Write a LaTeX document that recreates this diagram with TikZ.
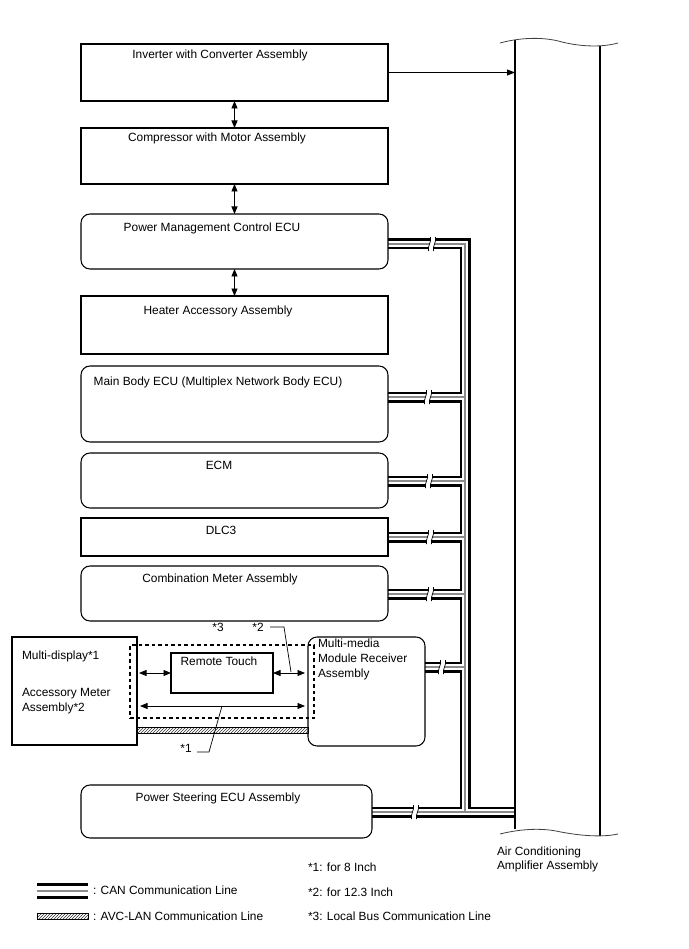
\documentclass[tikz,border=0pt]{standalone}
\usepackage{fontspec}
\setmainfont{Liberation Sans}
\usetikzlibrary{arrows.meta,patterns}
\pgfdeclarelayer{bg}
\pgfsetlayers{bg,main}
\newcommand\canbreak[2]{%
  \fill[white] ({#1-3.5},{#2+7}) .. controls ({#1-4.5},{#2+1}) and ({#1-0.5},{#2-1}) .. ({#1-1.5},{#2-7})
     -- ({#1+3.5},{#2-7}) .. controls ({#1+4.5},{#2-1}) and ({#1+0.5},{#2+1}) .. ({#1+1.5},{#2+7}) -- cycle;
  \draw[line width=0.7pt] ({#1-3.5},{#2+7}) .. controls ({#1-4.5},{#2+1}) and ({#1-0.5},{#2-1}) .. ({#1-1.5},{#2-7});
  \draw[line width=0.7pt] ({#1+1.5},{#2+7}) .. controls ({#1+0.5},{#2+1}) and ({#1+4.5},{#2-1}) .. ({#1+3.5},{#2-7});
}
\begin{document}
\begin{tikzpicture}[x=1pt,y=-1pt,
  font=\fontsize{11.9}{14}\selectfont,
  every node/.style={inner sep=0pt, outer sep=0pt},
  sq/.style={draw, line width=1.05pt, anchor=north west},
  rd/.style={sq, rounded corners=9pt},
  ctext/.style={anchor=base},
  ltext/.style={anchor=base west},
  dbl/.style={{Triangle[length=7.5pt,width=6pt]}-{Triangle[length=7.5pt,width=6pt]}, line width=0.8pt},
  sgl/.style={-{Triangle[length=8pt,width=6pt]}, line width=0.8pt},
  thin/.style={line width=0.7pt},
  avc/.style={draw, line width=0.5pt, pattern=north east lines, pattern color=black!80},
]
\useasboundingbox (0,0) rectangle (688,949);

% boxes
\node[sq, minimum width=307pt, minimum height=57pt] (inv) at (81,44) {};
\node[sq, minimum width=307pt, minimum height=56pt] (comp) at (81,128) {};
\node[rd, minimum width=307pt, minimum height=55pt] (pmc) at (81,214) {};
\node[sq, minimum width=307pt, minimum height=58pt] (heat) at (81,296) {};
\node[rd, minimum width=307pt, minimum height=76pt] (mb) at (81,366) {};
\node[rd, minimum width=307pt, minimum height=55pt] (ecm) at (81,453) {};
\node[sq, minimum width=307pt, minimum height=38pt] (dlc) at (81,518) {};
\node[rd, minimum width=307pt, minimum height=55pt] (cmb) at (81,566) {};
\node[sq, minimum width=125pt, minimum height=108pt] (md) at (12,637) {};
\node[rd, minimum width=117pt, minimum height=109pt] (mm) at (308,637) {};
\node[sq, minimum width=102pt, minimum height=40pt] (rt) at (171,653) {};
\node[sq, line width=1.1pt, dash pattern=on 3.5pt off 3pt, minimum width=184pt, minimum height=73pt] (dsh) at (130,645) {};
\node[rd, minimum width=291pt, minimum height=53pt] (ps) at (81,785) {};

% texts
\node[ctext] (tinv) at (220,59) {Inverter with Converter Assembly};
\node[ctext] (tcomp) at (217,142) {Compressor with Motor Assembly};
\node[ctext] (tpmc) at (212,232) {Power Management Control ECU};
\node[ctext] (theat) at (218,314) {Heater Accessory Assembly};
\node[ctext] (tmb) at (218,385) {Main Body ECU (Multiplex Network Body ECU)};
\node[ctext] (tecm) at (219,469) {ECM};
\node[ctext] (tdlc) at (221,534) {DLC3};
\node[ctext] (tcmb) at (220,582) {Combination Meter Assembly};
\node[ctext] (tps) at (218,801) {Power Steering ECU Assembly};
\node[ctext] (trt) at (219,665) {Remote Touch};
\node[ltext] (tmd1) at (22,659) {Multi-display*1};
\node[ltext] (tmd2) at (22,696) {Accessory Meter};
\node[ltext] (tmd3) at (22,711) {Assembly*2};
\node[ltext] (tmm1) at (318,647) {Multi-media};
\node[ltext] (tmm2) at (318,662) {Module Receiver};
\node[ltext] (tmm3) at (318,677) {Assembly};
\node[ctext] (s3) at (218,631) {*3};
\node[ctext] (s2) at (258,631) {*2};
\node[ctext] (s1) at (186,752) {*1};
\node[ltext] (tac1) at (497,855) {Air Conditioning};
\node[ltext] (tac2) at (497,869) {Amplifier Assembly};
\node[ltext] (tlg1) at (93,894) {: CAN Communication Line};
\node[ltext] (tlg2) at (93,920) {: AVC-LAN Communication Line};
\node[ltext] (tn1) at (308,871) {*1: for 8 Inch};
\node[ltext] (tn2) at (308,896) {*2: for 12.3 Inch};
\node[ltext] (tn3) at (308,920) {*3: Local Bus Communication Line};

% air conditioning amplifier (cut-away)
\coordinate (acTL) at (515,40);
\coordinate (acBL) at (515,829);
\coordinate (acTR) at (600,46);
\coordinate (acBR) at (600,836);
\draw[line width=1.05pt] (acTL) -- (acBL);
\draw[line width=1.05pt] (acTR) -- (acBR);
\draw[black!75, line width=0.8pt] (500,43) .. controls (522,37) and (545,37) .. (562,42) .. controls (578,46) and (600,48) .. (618,43);
\draw[black!75, line width=0.8pt] (500,834) .. controls (520,829) and (540,828) .. (556,831) .. controls (575,835) and (600,838) .. (618,834);

% bus coordinates
\coordinate (b1) at (465,244);
\coordinate (b2) at (465,397);
\coordinate (b3) at (465,481);
\coordinate (b4) at (465,537);
\coordinate (b5) at (465,594);
\coordinate (b6) at (465,667);
\coordinate (b7) at (465,812);
\coordinate (acL) at (515,812);

\begin{pgfonlayer}{bg}
\foreach \w/\c in {11/black,6.4/white,1.3/black!45}{
  \draw[line width=\w pt, draw=\c, line join=miter] (pmc.east |- b1) -- (b1) -- (b7);
  \draw[line width=\w pt, draw=\c] (mb.east |- b2) -- (b2);
  \draw[line width=\w pt, draw=\c] (ecm.east |- b3) -- (b3);
  \draw[line width=\w pt, draw=\c] (dlc.east |- b4) -- (b4);
  \draw[line width=\w pt, draw=\c] (cmb.east |- b5) -- (b5);
  \draw[line width=\w pt, draw=\c] (mm.east |- b6) -- (b6);
  \draw[line width=\w pt, draw=\c] (ps.east |- b7) -- (acL);
}
\canbreak{432}{244}
\canbreak{428}{397}
\canbreak{429}{481}
\canbreak{430}{537}
\canbreak{430}{594}
\canbreak{442}{667}
\canbreak{415}{812}
\end{pgfonlayer}

% arrows
\draw[sgl] (inv.east) -- (inv.east -| acL);
\draw[dbl] (inv.south) -- (comp.north);
\draw[dbl] (comp.south) -- (pmc.north);
\draw[dbl] (pmc.south) -- (heat.north);

\coordinate (a1) at (139,673);
\coordinate (a2) at (305,673);
\coordinate (a3) at (140,706);
\coordinate (a4) at (305,706);
\draw[dbl] (a1) -- (rt.west);
\draw[dbl] (rt.east) -- (a2);
\draw[dbl] (a3) -- (a4);

% AVC-LAN line
\coordinate (avc1) at (0,727);
\coordinate (avc2) at (0,733);
\draw[avc] (md.east |- avc1) rectangle (mm.west |- avc2);

% leaders
\coordinate (l2a) at (270,627);
\coordinate (l2b) at (284,627);
\coordinate (l2c) at (291,672);
\draw[thin] (l2a) -- (l2b) -- (l2c);
\coordinate (l1a) at (197,752);
\coordinate (l1b) at (209,752);
\coordinate (l1c) at (222,706);
\draw[thin] (l1a) -- (l1b) -- (l1c);

% legend
\coordinate (lc1) at (37,891);
\coordinate (lc2) at (88,891);
\foreach \w/\c in {16/black,10/white,2/black!45}{
  \draw[line width=\w pt, draw=\c] (lc1) -- (lc2);
}
\coordinate (la1) at (37,913);
\coordinate (la2) at (88,919);
\draw[avc] (la1) rectangle (la2);
\end{tikzpicture}
\end{document}
